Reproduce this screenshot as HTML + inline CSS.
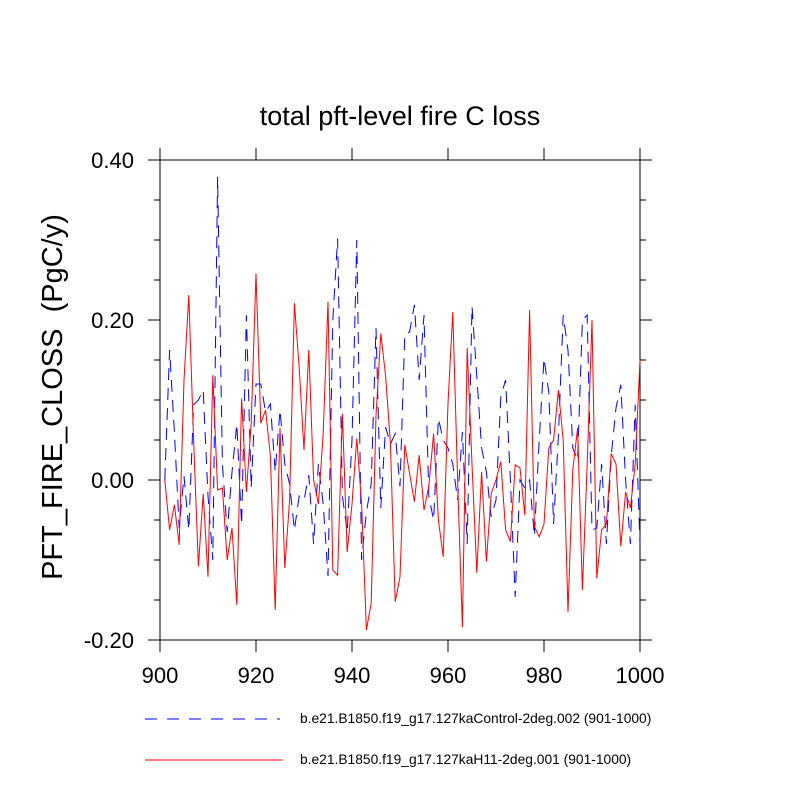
<!DOCTYPE html>
<html><head><meta charset="utf-8"><style>
body{margin:0;background:#fff;}
svg{display:block;font-family:"Liberation Sans",sans-serif;}
</style></head><body>
<svg id="chart" width="800" height="800" xmlns="http://www.w3.org/2000/svg">
<rect width="800" height="800" fill="#fff"/>
<text x="400" y="125" text-anchor="middle" font-size="27">total pft-level fire C loss</text>
<text transform="translate(62,397) rotate(-90)" text-anchor="middle" font-size="29" xml:space="preserve">PFT_FIRE_CLOSS  (PgC/y)</text>
<g id="axes"></g>
<g id="series"></g>
<g>
<line x1="145" y1="719" x2="280" y2="719" stroke="#0000ff" stroke-width="1" stroke-dasharray="12,10"/>
<text x="300" y="723" font-size="13.8">b.e21.B1850.f19_g17.127kaControl-2deg.002 (901-1000)</text>
<line x1="145" y1="760" x2="283" y2="760" stroke="#ff0000" stroke-width="1"/>
<text x="300" y="764" font-size="13.8">b.e21.B1850.f19_g17.127kaH11-2deg.001 (901-1000)</text>
</g>
</svg>
<script>
const years = Array.from({length:100},(_,i)=>901+i);
const controlValues = [0.00,0.1625,0.06,-0.06,0.005,-0.0625,0.094,0.10,0.1125,-0.02,
-0.10,0.379,0.02,-0.065,0.01,0.07,-0.056,0.206,-0.01,0.12,
0.12,0.085,0.095,0.01,0.0875,0.02,-0.005,-0.0625,-0.02,-0.025,
0.006,-0.08,0.02,-0.03,-0.12,0.20,0.302,-0.02,-0.065,0.05,
0.30,-0.10,-0.04,-0.005,0.19,-0.035,0.066,0.045,0.058,-0.008,
0.183,0.185,0.219,0.125,0.206,-0.02,-0.05,0.077,0.05,0.04,
0.02,-0.025,0.06,-0.08,0.217,0.13,0.04,0.01,-0.046,-0.025,
0.104,0.125,0.00,-0.146,0.00,-0.01,0.00,-0.07,0.05,0.152,
0.11,-0.055,0.055,0.206,0.1625,0.04,0.025,0.20,0.206,-0.0625,
-0.06,0.02,-0.08,0.03,0.09,0.119,0.00,-0.08,0.094,-0.08];
const h11Values = [0.00,-0.0625,-0.031,-0.081,0.125,0.231,0.05,-0.108,-0.017,-0.121,
0.131,-0.0125,-0.01,-0.10,-0.06,-0.156,0.102,-0.015,0.071,0.258,
0.071,0.0875,0.03,-0.1625,0.065,-0.11,-0.025,0.221,0.14,0.0375,
0.1625,0.00,-0.03,0.058,0.223,-0.1125,-0.119,0.083,-0.09,-0.03,
0.052,-0.03,-0.1875,-0.154,0.08,0.183,0.13,0.046,-0.152,-0.121,
0.044,0.008,-0.027,0.031,-0.0375,-0.008,0.058,-0.05,-0.096,0.096,
0.21,0.00,-0.184,0.165,0.02,-0.116,0.01,-0.102,-0.017,0.00,
0.023,-0.0625,-0.077,0.019,0.015,-0.044,0.2125,-0.058,-0.071,-0.055,
0.04,0.05,0.1125,0.05,-0.165,0.0125,0.065,-0.1375,0.02,0.20,
-0.123,-0.0625,-0.055,0.033,0.02,-0.083,-0.015,-0.035,0.02,0.15];
const xTicks = [900,920,940,960,980,1000];
const yTicks = [-0.20,0.00,0.20,0.40];
const yTickLabels = ["-0.20","0.00","0.20","0.40"];
const yMinorTicks = [-0.15,-0.10,-0.05,0.05,0.10,0.15,0.25,0.30,0.35];

const L=160,R=640,T=160,B=640;
const xs=v=>L+(v-900)/100*(R-L);
const ys=v=>B-(v+0.2)/0.6*(B-T);
const NS="http://www.w3.org/2000/svg";
function mk(tag,attrs,parent){const e=document.createElementNS(NS,tag);for(const k in attrs)e.setAttribute(k,attrs[k]);parent.appendChild(e);return e;}
const ax=document.getElementById('axes');
const fr=mk('rect',{x:L,y:T,width:R-L,height:B-T,fill:'none',stroke:'#000','stroke-width':1},ax);


xTicks.forEach(v=>{
  const x=xs(v);
  const t1=mk('line',{x1:x,y1:B,x2:x,y2:B+12,stroke:'#000'},ax);
  
  
  const t2=mk('line',{x1:x,y1:T,x2:x,y2:T-12,stroke:'#000'},ax);
  
  
  const lb=mk('text',{x:x,y:683,'text-anchor':'middle','font-size':22},ax);
  lb.textContent=v;
  
  
});
yTicks.forEach((v,i)=>{
  const y=ys(v);
  const t1=mk('line',{x1:L-12,y1:y,x2:L,y2:y,stroke:'#000'},ax);
  
  
  const t2=mk('line',{x1:R,y1:y,x2:R+12,y2:y,stroke:'#000'},ax);
  
  
  const lb=mk('text',{x:134,y:y+8,'text-anchor':'end','font-size':22},ax);
  lb.textContent=yTickLabels[i];
  
  
});
yMinorTicks.forEach(v=>{
  const y=ys(v);
  const t1=mk('line',{x1:L-6,y1:y,x2:L,y2:y,stroke:'#000'},ax);
  
  
  const t2=mk('line',{x1:R,y1:y,x2:R+6,y2:y,stroke:'#000'},ax);
  
  
});
const sg=document.getElementById('series');
const pts=vals=>vals.map((v,i)=>xs(years[i]).toFixed(1)+','+ys(v).toFixed(1)).join(' ');
const bl=mk('polyline',{points:pts(controlValues),fill:'none',stroke:'#0000ff','stroke-width':1,'stroke-dasharray':'12,8'},sg);


const rl=mk('polyline',{points:pts(h11Values),fill:'none',stroke:'#ff0000','stroke-width':1},sg);


</script>
</body></html>
